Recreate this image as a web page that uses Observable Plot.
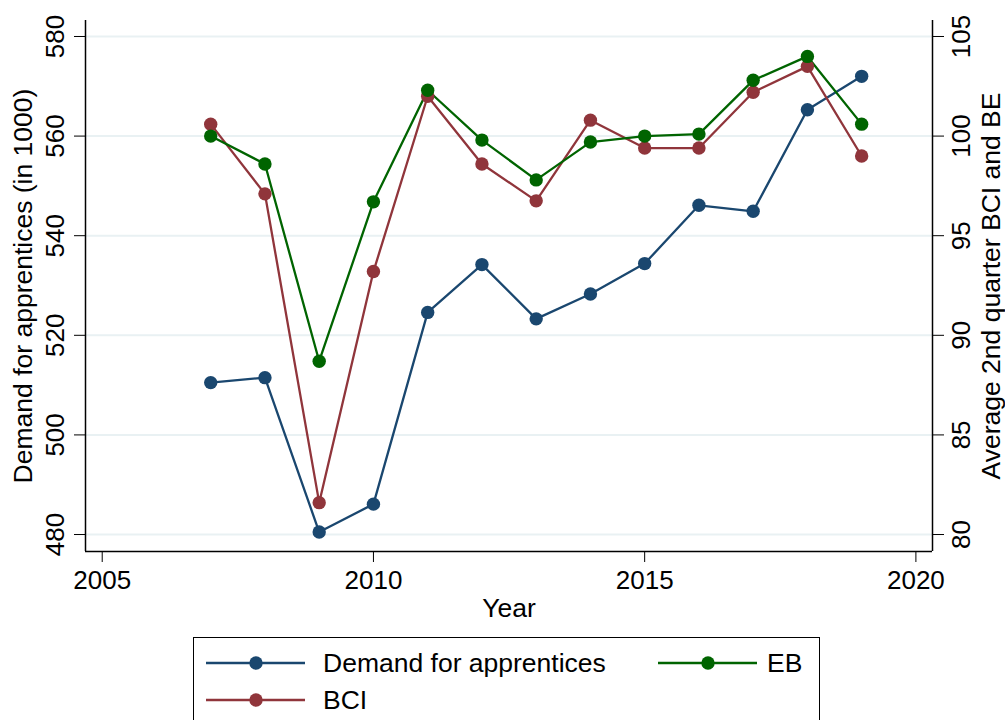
<!DOCTYPE html>
<html>
<head>
<meta charset="utf-8">
<script src="https://cdn.jsdelivr.net/npm/d3@7"></script>
<script src="https://cdn.jsdelivr.net/npm/@observablehq/plot@0.6"></script>
<style>
  html, body { margin: 0; padding: 0; background: #fff; overflow: hidden; }
  body { width: 1005px; height: 720px; position: relative; font-family: "Liberation Sans", Arial, Helvetica, sans-serif; }
  #chart { position: absolute; left: 0; top: 0; }
  #legend { position: absolute; left: 193px; top: 637px; width: 627px; height: 110px; border: 1.5px solid #000; box-sizing: border-box; }
  .item { position: absolute; height: 30px; }
  .item svg { position: absolute; left: 0; top: 0; }
  .item span { position: absolute; font-size: 26.5px; line-height: 30px; white-space: nowrap; color: #000; }
</style>
</head>
<body>
<div id="chart"></div>
<div id="legend"></div>
<script>
const years = [2007, 2008, 2009, 2010, 2011, 2012, 2013, 2014, 2015, 2016, 2017, 2018, 2019];
const demand = [510.5, 511.5, 480.5, 486.1, 524.6, 534.2, 523.3, 528.3, 534.4, 546.1, 544.9, 565.3, 572.0];
const bci = [100.6, 97.1, 81.6, 93.2, 102.0, 98.6, 96.75, 100.8, 99.4, 99.4, 102.2, 103.5, 99.0];
const eb = [100.0, 98.6, 88.7, 96.7, 102.3, 99.8, 97.8, 99.7, 100.0, 100.1, 102.8, 104.0, 100.6];
const xTicks = [2005, 2010, 2015, 2020];
const leftTicks = [480, 500, 520, 540, 560, 580];
const rightTicks = [80, 85, 90, 95, 100, 105];
const seriesNames = ["Demand for apprentices", "BCI", "EB"];
const colors = {"Demand for apprentices": "#1a476f", "BCI": "#90353b", "EB": "#006400"};

// right axis (80..105) mapped onto left axis (480..580)
const toLeft = r => 480 + (r - 80) * 4;
const toRight = l => 80 + (l - 480) / 4;

const rows = [];
years.forEach((y, i) => {
  rows.push({year: y, series: "Demand for apprentices", v: demand[i]});
  rows.push({year: y, series: "BCI", v: toLeft(bci[i])});
  rows.push({year: y, series: "EB", v: toLeft(eb[i])});
});

const xDomain = [2004.692, 2020.306];
const yDomain = [476.59, 583.21];
const font = "Liberation Sans, Arial, Helvetica, sans-serif";

const chart = Plot.plot({
  width: 1005,
  height: 637,
  marginLeft: 85,
  marginRight: 73,
  marginTop: 20,
  marginBottom: 86,
  style: {fontFamily: font, fontSize: "26px", color: "#000", background: "#fff"},
  x: {domain: xDomain},
  y: {domain: yDomain},
  marks: [
    Plot.gridY(leftTicks, {stroke: "#e9f1f3", strokeOpacity: 1, strokeWidth: 2}),
    Plot.line(rows, {x: "year", y: "v", z: "series", stroke: d => colors[d.series], strokeWidth: 2.3}),
    Plot.dot(rows, {x: "year", y: "v", r: 6.7, fill: d => colors[d.series], stroke: "none"}),
    Plot.ruleX([xDomain[0]], {stroke: "#000", strokeWidth: 1.5}),
    Plot.ruleX([xDomain[1]], {stroke: "#000", strokeWidth: 1.5}),
    Plot.ruleY([yDomain[0]], {stroke: "#000", strokeWidth: 1.5}),
    Plot.axisY({anchor: "left", ticks: leftTicks, tickSize: 11, tickRotate: -90, tickPadding: 11,
      fontSize: 26, label: "Demand for apprentices (in 1000)", labelAnchor: "center", labelOffset: 72, labelArrow: "none"}),
    Plot.axisY({anchor: "right", ticks: rightTicks.map(toLeft), tickFormat: d => String(Math.round(toRight(d))),
      tickSize: 11, tickRotate: -90, tickPadding: 8, lineAnchor: "top",
      fontSize: 26, label: "Average 2nd quarter BCI and BE", labelAnchor: "center", labelOffset: 67, labelArrow: "none"}),
    Plot.axisX({anchor: "bottom", ticks: xTicks, tickFormat: d => String(d), tickSize: 11, tickPadding: 8,
      fontSize: 26, label: "Year", labelAnchor: "center", labelOffset: 65, labelArrow: "none"})
  ]
});
document.getElementById("chart").appendChild(chart);

// axis titles slightly larger than tick labels
chart.querySelectorAll("g[aria-label='y-axis label'] text, g[aria-label='x-axis label'] text").forEach(t => t.setAttribute("font-size", "26.5"));

// legend
const legend = document.getElementById("legend");
const items = [
  {name: seriesNames[0], left: 12, top: 10, textLeft: 117},
  {name: seriesNames[2], left: 464, top: 10, textLeft: 109},
  {name: seriesNames[1], left: 12, top: 47, textLeft: 117}
];
items.forEach(it => {
  const div = document.createElement("div");
  div.className = "item";
  div.style.left = it.left + "px";
  div.style.top = it.top + "px";
  const c = colors[it.name];
  div.innerHTML = `<svg width="100" height="30"><line x1="0" x2="99" y1="15" y2="15" stroke="${c}" stroke-width="2.3"/><circle cx="50" cy="15" r="6.7" fill="${c}"/></svg><span style="left:${it.textLeft}px;top:0">${it.name}</span>`;
  legend.appendChild(div);
});
</script>
</body>
</html>
